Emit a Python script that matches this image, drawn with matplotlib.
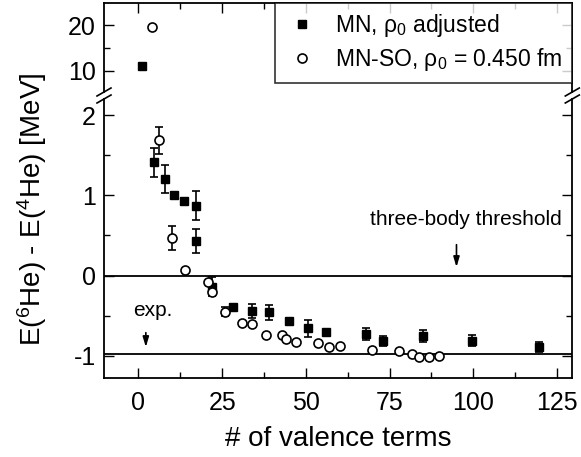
import matplotlib
matplotlib.use("Agg")
import matplotlib.pyplot as plt
import numpy as np
from matplotlib.ticker import MultipleLocator
from matplotlib.lines import Line2D

plt.rcParams['font.family'] = ['Liberation Sans', 'DejaVu Sans']
plt.rcParams['mathtext.fontset'] = 'custom'
plt.rcParams['mathtext.rm'] = 'Liberation Sans'
plt.rcParams['mathtext.it'] = 'Liberation Sans'
plt.rcParams['axes.unicode_minus'] = False

# MN, rho0 adjusted (filled squares)
mn_x = [1, 4.7, 7.8, 10.7, 13.7, 17.1, 17.1, 22, 28.2, 34, 39.1, 45.1, 50.7, 56, 68, 73, 84.9, 99.7, 119.7]
mn_y = [11.0, 1.415, 1.206, 1.006, 0.935, 0.87, 0.435, -0.14, -0.39, -0.44, -0.46, -0.565, -0.66, -0.70, -0.73, -0.82, -0.755, -0.815, -0.89]
mn_err = [0, 0.18, 0.18, 0, 0, 0.18, 0.15, 0.12, 0, 0.09, 0.09, 0, 0.11, 0, 0.07, 0.06, 0.07, 0.07, 0.06]

# MN-SO, rho0 = 0.450 fm (open circles)
so_x = [4, 6, 10, 14, 20.9, 21.9, 25.9, 30.9, 34, 38, 42.8, 44.1, 47.1, 53.7, 57, 60.2, 69.9, 77.8, 81.8, 83.8, 86.8, 89.8]
so_y = [19.5, 1.69, 0.465, 0.07, -0.08, -0.21, -0.45, -0.59, -0.61, -0.74, -0.74, -0.79, -0.83, -0.84, -0.89, -0.88, -0.93, -0.94, -0.985, -1.02, -1.02, -1.0]
so_err = [0, 0.17, 0.15, 0, 0, 0, 0.06, 0, 0, 0, 0, 0, 0, 0, 0, 0, 0, 0, 0, 0, 0, 0]

threshold = 0.0
exp_value = -0.975

x_ticks = [0, 25, 50, 75, 100, 125]
top_yticks = [10, 20]
bot_yticks = [-1, 0, 1, 2]

W, H = 581, 457
fig = plt.figure(figsize=(W / 100, H / 100), dpi=100)

left_px, right_px = 104, 572.3
top_top, top_bot = 2.7, 92
bot_top, bot_bot = 99, 378

def fr(l, r, t, b):
    return [l / W, 1 - b / H, (r - l) / W, (b - t) / H]

ax_t = fig.add_axes(fr(left_px, right_px, top_top, top_bot))
ax_b = fig.add_axes(fr(left_px, right_px, bot_top, bot_bot))

xlim = (-10.3, 129.6)
for ax in (ax_t, ax_b):
    ax.errorbar(mn_x, mn_y, yerr=mn_err, fmt='s', color='black', ms=5.8,
                ecolor='black', elinewidth=1.2, capsize=2.8, capthick=1.2, zorder=3)
    ax.errorbar(so_x, so_y, yerr=so_err, fmt='o', mfc='white', mec='black', mew=1.2,
                ms=6.5, ecolor='black', elinewidth=1.2, capsize=2.8, capthick=1.2, zorder=4)
    ax.set_xlim(*xlim)
    ax.xaxis.set_major_locator(MultipleLocator(25))
    ax.xaxis.set_minor_locator(MultipleLocator(12.5))
    ax.tick_params(which='both', direction='in', top=True, right=True, labelsize=18, width=1)
    ax.tick_params(which='major', length=7)
    ax.tick_params(which='minor', length=4)
    ax.tick_params(axis='y', pad=6)
    ax.tick_params(axis='x', pad=9.5)
    for s in ax.spines.values():
        s.set_linewidth(1.3)

ax_t.set_ylim(5.34, 24.9)
ax_t.set_yticks(top_yticks)
ax_t.yaxis.set_minor_locator(MultipleLocator(5))
ax_t.spines['bottom'].set_visible(False)
ax_t.tick_params(which='both', bottom=False, labelbottom=False)

ax_b.set_ylim(-1.281, 2.206)
ax_b.set_yticks(bot_yticks)
ax_b.yaxis.set_minor_locator(MultipleLocator(0.5))
ax_b.spines['top'].set_visible(False)
ax_b.tick_params(which='both', top=False)
ax_b.set_xticks(x_ticks)

ax_b.axhline(threshold, color='black', lw=1.3, zorder=2)
ax_b.axhline(exp_value, color='black', lw=1.3, zorder=2)

ax_b.set_xlabel('# of valence terms', fontsize=20, labelpad=8)
fig.text(32.5 / W, 1 - 209.5 / H, r'E($^6$He) - E($^4$He) [MeV]', rotation=90,
         fontsize=20, ha='center', va='center')

ax_b.annotate('', xy=(95, 0.07), xytext=(95, 0.42),
              arrowprops=dict(arrowstyle='-|>,head_length=0.6,head_width=0.18', color='black', lw=1.2))
ax_b.text(97.8, 0.70, 'three-body threshold', fontsize=15, ha='center', va='center')
ax_b.annotate('', xy=(2.2, -0.93), xytext=(2.2, -0.68),
              arrowprops=dict(arrowstyle='-|>,head_length=0.6,head_width=0.18', color='black', lw=1.2))
ax_b.text(4.4, -0.44, 'exp.', fontsize=15, ha='center', va='center')

handles = [Line2D([], [], marker='s', ls='none', color='black', ms=5.8),
           Line2D([], [], marker='o', ls='none', mfc='white', mec='black', mew=1.2, ms=6.5)]
leg = ax_t.legend(handles, [r'MN, ρ$_0$ adjusted', r'MN-SO, ρ$_0$ = 0.450 fm'],
                  loc='upper right', borderaxespad=0, fontsize=16.5, frameon=True,
                  fancybox=False, edgecolor='black', handletextpad=0.7, handlelength=1.5,
                  labelspacing=0.3, borderpad=0.42)
leg.get_frame().set_linewidth(1.2)

# break marks
for xp in (left_px, right_px):
    for yp in (top_bot, bot_top):
        fig.add_artist(Line2D([(xp - 7) / W, (xp + 7) / W], [1 - (yp + 4) / H, 1 - (yp - 4) / H],
                              color='black', lw=1.2))

fig.savefig('out.png', dpi=100)
